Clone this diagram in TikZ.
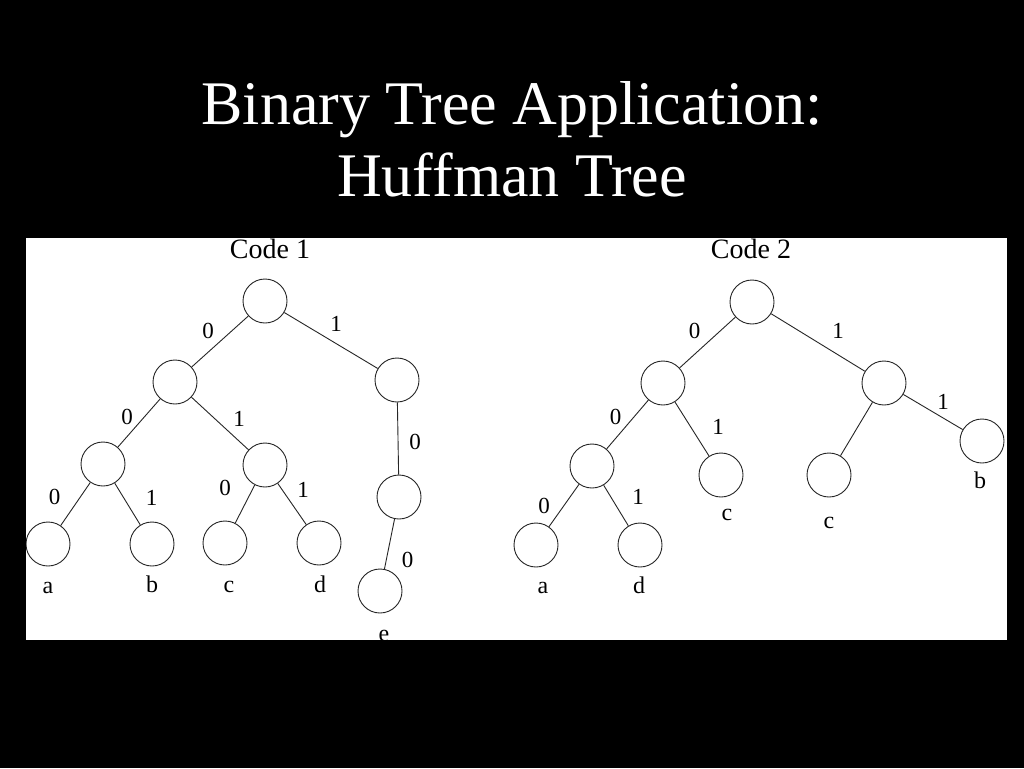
\documentclass[tikz,border=0pt]{standalone}
\usepackage{fontspec}
\setmainfont{Liberation Serif}
\usetikzlibrary{positioning}
\tikzset{
    treenode/.style={circle, draw=black!85, line width=0.9pt, minimum size=44pt, inner sep=0pt},
    bit/.style={font=\fontsize{23}{25}\selectfont, inner sep=0pt},
    leafname/.style={font=\fontsize{24}{26}\selectfont, anchor=base, inner sep=0pt},
    codetitle/.style={font=\fontsize{28}{30}\selectfont, anchor=base, inner sep=0pt},
    edge/.style={draw=black!85, line width=0.9pt}
}

\begin{document}
\begin{tikzpicture}[x=1pt, y=-1pt,
  slidetitle/.style={font=\fontsize{62}{72}\selectfont, text=white, align=center, anchor=base}]
  \fill[black] (0,0) rectangle (1024,768);
  \useasboundingbox (0,0) rectangle (1024,768);
  \fill[white] (26,238) rectangle (1007,640);
  \node[slidetitle] (title) at (512,196) {Binary Tree Application:\\Huffman Tree};

  \begin{scope}
  \clip (26,238) rectangle (1007,640);
  % Code 1
  \node[codetitle] (code1) at (270,258) {Code 1};
  \node[treenode] (r1) at (265,301) {};
  \node[treenode] (l1) at (175,382) {};
  \node[treenode] (q1) at (397,380) {};
  \node[treenode] (ll1) at (103,464) {};
  \node[treenode] (lr1) at (265,465) {};
  \node[treenode] (qc1) at (399,497) {};
  \node[treenode] (a1) at (48,544) {};
  \node[treenode] (b1) at (152,544) {};
  \node[treenode] (c1) at (225,543) {};
  \node[treenode] (d1) at (319,543) {};
  \node[treenode] (e1) at (380,591) {};
  \node[leafname] (na1) at (48,593) {a};
  \node[leafname] (nb1) at (152,592) {b};
  \node[leafname] (nc1) at (229,592) {c};
  \node[leafname] (nd1) at (320,592) {d};
  \node[leafname] (ne1) at (384,641) {e};
  \draw[edge] (r1) -- node[bit, xshift=-12pt, yshift=11pt]{0} (l1);
  \draw[edge] (r1) -- node[bit, xshift=5pt, yshift=17pt]{1} (q1);
  \draw[edge] (l1) -- node[bit, xshift=-12pt, yshift=6pt]{0} (ll1);
  \draw[edge] (l1) -- node[bit, xshift=19pt, yshift=5pt]{1} (lr1);
  \draw[edge] (q1) -- node[bit, xshift=17pt, yshift=-3pt]{0} (qc1);
  \draw[edge] (ll1) -- node[bit, xshift=-21pt, yshift=7pt]{0} (a1);
  \draw[edge] (ll1) -- node[bit, xshift=24pt, yshift=6pt]{1} (b1);
  \draw[edge] (lr1) -- node[bit, xshift=-20pt, yshift=16pt]{0} (c1);
  \draw[edge] (lr1) -- node[bit, xshift=11pt, yshift=14pt]{1} (d1);
  \draw[edge] (qc1) -- node[bit, xshift=18pt, yshift=-16pt]{0} (e1);

  % Code 2
  \node[codetitle] (code2) at (751,258) {Code 2};
  \node[treenode] (r2) at (752,302) {};
  \node[treenode] (l2) at (663,383) {};
  \node[treenode] (q2) at (884,383) {};
  \node[treenode] (ll2) at (592,466) {};
  \node[treenode] (c2) at (721,475) {};
  \node[treenode] (cc2) at (829,475) {};
  \node[treenode] (b2) at (982,441) {};
  \node[treenode] (a2) at (536,545) {};
  \node[treenode] (d2) at (640,545) {};
  \node[leafname] (nc2) at (727,520) {c};
  \node[leafname] (ncc2) at (829,528) {c};
  \node[leafname] (nb2) at (980,488) {b};
  \node[leafname] (na2) at (543,593) {a};
  \node[leafname] (nd2) at (639,593) {d};
  \draw[edge] (r2) -- node[bit, xshift=-13pt, yshift=12pt]{0} (l2);
  \draw[edge] (r2) -- node[bit, xshift=20pt, yshift=12pt]{1} (q2);
  \draw[edge] (l2) -- node[bit, xshift=-12pt, yshift=8pt]{0} (ll2);
  \draw[edge] (l2) -- node[bit, xshift=26pt, yshift=2pt]{1} (c2);
  \draw[edge] (q2) -- (cc2);
  \draw[edge] (q2) -- node[bit, xshift=10pt, yshift=10pt]{1} (b2);
  \draw[edge] (ll2) -- node[bit, xshift=-20pt, yshift=0pt]{0} (a2);
  \draw[edge] (ll2) -- node[bit, xshift=22pt, yshift=9pt]{1} (d2);
  \end{scope}
\end{tikzpicture}
\end{document}
